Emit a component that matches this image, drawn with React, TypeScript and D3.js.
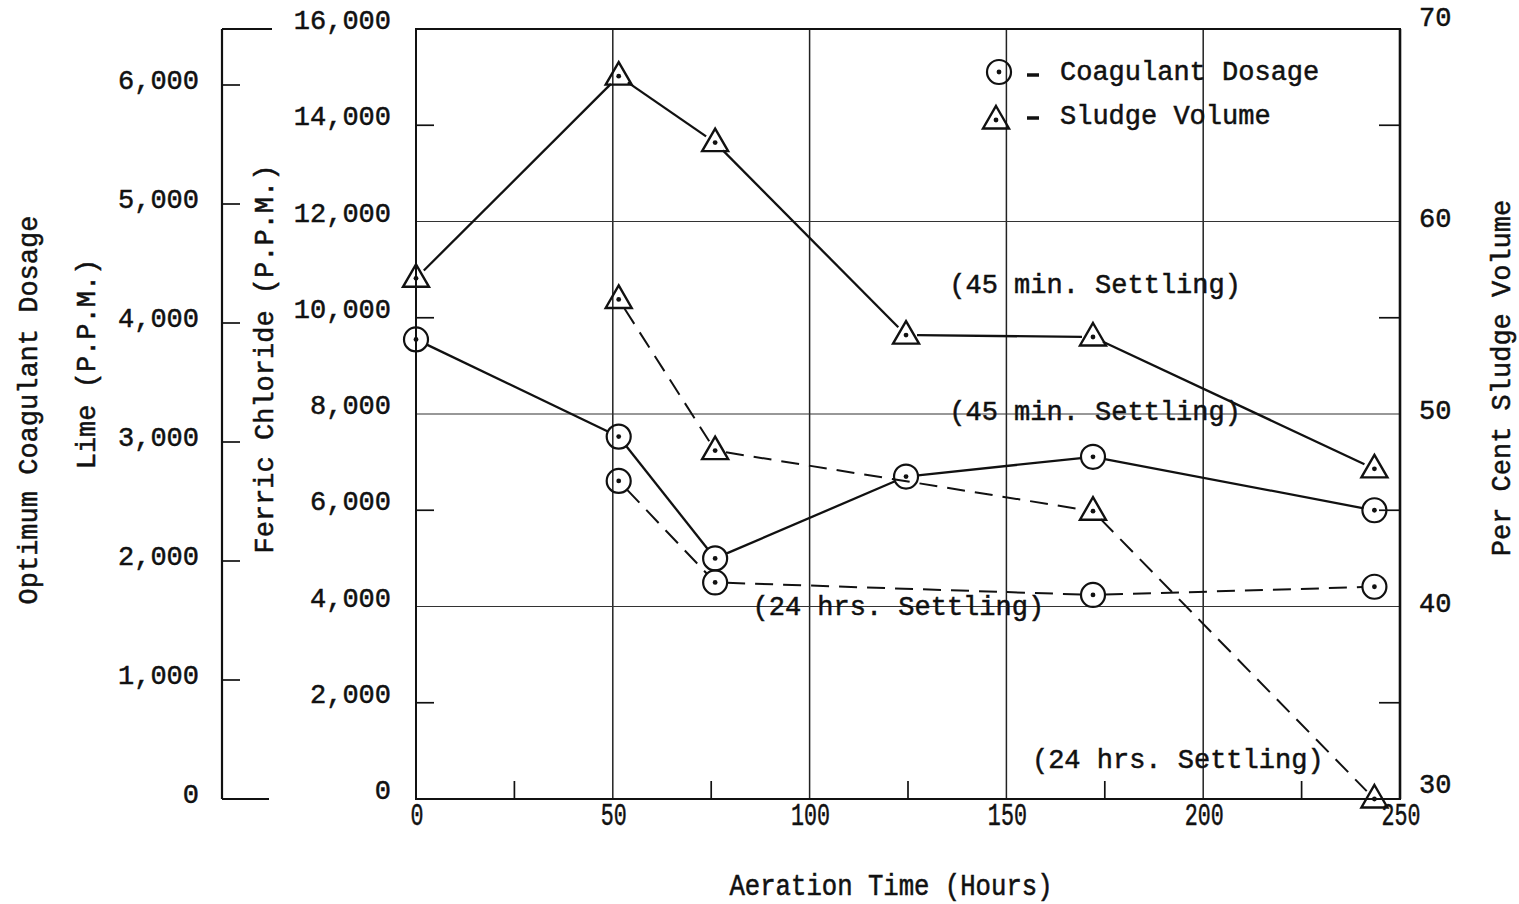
import React from "react";
import * as d3 from "d3";

// ---- data ----
const hours = [0, 51.5, 76, 124.5, 172, 243.5];
const dosage45 = [9550, 7530, 5000, 6700, 7110, 6000]; // ferric chloride P.P.M., 45 min settling
const dosage24Hours = [51.5, 76, 172, 243.5];
const dosage24 = [6610, 4500, 4240, 4410]; // 24 hrs settling
const sludge45 = [57.05, 67.55, 64.1, 54.1, 54.0, 47.15]; // per cent, 45 min settling
const sludge24Hours = [51.5, 76, 172, 243.5];
const sludge24 = [55.95, 48.1, 44.95, 30.0]; // 24 hrs settling

const xTicks = [0, 50, 100, 150, 200, 250];
const xMinorTicks = [25, 75, 125, 175, 225];
const xGrid = [50, 100, 150, 200];
const ferricTicks = [0, 2000, 4000, 6000, 8000, 10000, 12000, 14000, 16000];
const ferricGrid = [4000, 8000, 12000];
const ferricMinor = [2000, 6000, 10000, 14000];
const limeTicks = [0, 1000, 2000, 3000, 4000, 5000, 6000];
const pctTicks = [30, 40, 50, 60, 70];
const pctMinor = [35, 45, 55, 65];

const annotations = [
  { text: "(45 min. Settling)", h: 136, v: 10650 },
  { text: "(45 min. Settling)", h: 136, v: 8020 },
  { text: "(24 hrs. Settling)", h: 86, v: 3960 },
  { text: "(24 hrs. Settling)", h: 157, v: 800 },
];

const FONT = "'Liberation Mono', 'DejaVu Sans Mono', monospace";
const W = 1519;
const H = 904;

const x = d3.scaleLinear().domain([0, 250]).range([416, 1400]);
const yF = d3.scaleLinear().domain([0, 16000]).range([799, 29]);
const yP = d3.scaleLinear().domain([30, 70]).range([799, 29]);
const yL = d3.scaleLinear().domain([0, 6000]).range([799, 85]);
const LIME_X = 222;

type Pt = [number, number];

function trimmedSegments(pts: Pt[], r: number): string[] {
  const out: string[] = [];
  for (let i = 0; i < pts.length - 1; i++) {
    const [x1, y1] = pts[i];
    const [x2, y2] = pts[i + 1];
    const dx = x2 - x1, dy = y2 - y1;
    const len = Math.hypot(dx, dy);
    const ux = dx / len, uy = dy / len;
    const a: Pt = [x1 + ux * r, y1 + uy * r];
    const b: Pt = [x2 - ux * r, y2 - uy * r];
    out.push(d3.line()([a, b]) as string);
  }
  return out;
}

function Circle({ cx, cy }: { cx: number; cy: number }) {
  return (
    <g>
      <circle cx={cx} cy={cy} r={12} fill="none" stroke="#111" strokeWidth={2.2} />
      <circle cx={cx} cy={cy} r={2.4} fill="#111" />
    </g>
  );
}

function Tri({ cx, cy }: { cx: number; cy: number }) {
  const p = `M${cx},${cy - 14} L${cx + 13},${cy + 8.5} L${cx - 13},${cy + 8.5} Z`;
  return (
    <g>
      <path d={p} fill="none" stroke="#111" strokeWidth={2.4} strokeLinejoin="miter" />
      <circle cx={cx} cy={cy} r={2.4} fill="#111" />
    </g>
  );
}

export default function App() {
  const fmt = d3.format(",");
  const d45: Pt[] = hours.map((h, i) => [x(h), yF(dosage45[i])]);
  const d24: Pt[] = dosage24Hours.map((h, i) => [x(h), yF(dosage24[i])]);
  const s45: Pt[] = hours.map((h, i) => [x(h), yP(sludge45[i])]);
  const s24: Pt[] = sludge24Hours.map((h, i) => [x(h), yP(sludge24[i])]);

  const textStyle = {
    fontFamily: FONT,
    fontSize: 27,
    fill: "#111",
    stroke: "#111",
    strokeWidth: 0.5,
  } as const;

  return (
    <div style={{ position: "absolute", left: 0, top: 0 }}>
      <svg width={W} height={H} viewBox={`0 0 ${W} ${H}`} style={{ display: "block", background: "#fff" }}>
        {/* grid */}
        {xGrid.map((v) => (
          <line key={"gx" + v} x1={x(v)} x2={x(v)} y1={yF(16000)} y2={yF(0)} stroke="#222" strokeWidth={1.5} />
        ))}
        {ferricGrid.map((v) => (
          <line key={"gy" + v} x1={x(0)} x2={x(250)} y1={yF(v)} y2={yF(v)} stroke="#333" strokeWidth={1.2} />
        ))}
        {/* minor ticks */}
        {xMinorTicks.map((v) => (
          <line key={"mx" + v} x1={x(v)} x2={x(v)} y1={yF(0)} y2={yF(0) - 18} stroke="#111" strokeWidth={1.7} />
        ))}
        {ferricMinor.map((v) => (
          <line key={"mf" + v} x1={x(0)} x2={x(0) + 18} y1={yF(v)} y2={yF(v)} stroke="#111" strokeWidth={1.7} />
        ))}
        {pctMinor.map((v) => (
          <line key={"mp" + v} x1={x(250) - 21} x2={x(250)} y1={yP(v)} y2={yP(v)} stroke="#111" strokeWidth={1.7} />
        ))}
        {/* frame */}
        <rect x={x(0)} y={yF(16000)} width={x(250) - x(0)} height={yF(0) - yF(16000)} fill="none" stroke="#111" strokeWidth={2} />
        <line x1={x(250)} x2={x(250)} y1={yF(16000)} y2={yF(0)} stroke="#111" strokeWidth={2.6} />

        {/* lime axis */}
        <line x1={LIME_X} x2={LIME_X} y1={yF(16000)} y2={yF(0)} stroke="#111" strokeWidth={2.2} />
        <line x1={LIME_X} x2={LIME_X + 50} y1={yF(16000)} y2={yF(16000)} stroke="#111" strokeWidth={2} />
        <line x1={LIME_X} x2={LIME_X + 47} y1={yL(0)} y2={yL(0)} stroke="#111" strokeWidth={2} />
        {limeTicks.filter((v) => v > 0).map((v) => (
          <line key={"lt" + v} x1={LIME_X} x2={LIME_X + 18} y1={yL(v)} y2={yL(v)} stroke="#111" strokeWidth={1.7} />
        ))}
        {limeTicks.map((v) => (
          <text key={"ll" + v} x={199} y={yL(v) - 3} textAnchor="end" dominantBaseline="central" style={textStyle}>
            {fmt(v)}
          </text>
        ))}

        {/* ferric labels */}
        {ferricTicks.map((v) => (
          <text key={"fl" + v} x={391} y={yF(v) - 7} textAnchor="end" dominantBaseline="central" style={textStyle}>
            {fmt(v)}
          </text>
        ))}

        {/* percent labels */}
        {pctTicks.map((v, i) => (
          <text
            key={"pl" + v}
            x={1419}
            y={yP(v) + (i === 0 ? -13 : i === pctTicks.length - 1 ? -10 : -2)}
            dominantBaseline="central"
            style={textStyle}
          >
            {v}
          </text>
        ))}

        {/* x labels */}
        {xTicks.map((v) => (
          <text
            key={"xl" + v}
            transform={`translate(${x(v) + 1},${817}) scale(0.7,1)`}
            textAnchor="middle"
            dominantBaseline="central"
            style={{ ...textStyle, fontSize: 31 }}
          >
            {v}
          </text>
        ))}

        {/* axis titles */}
        <text transform={`translate(891,887) scale(0.95,1.1)`} textAnchor="middle" dominantBaseline="central" style={textStyle}>
          Aeration Time (Hours)
        </text>
        <text transform={`translate(30,410) rotate(-90)`} textAnchor="middle" dominantBaseline="central" style={textStyle}>
          Optimum Coagulant Dosage
        </text>
        <text transform={`translate(88,364) rotate(-90)`} textAnchor="middle" dominantBaseline="central" style={textStyle}>
          Lime (P.P.M.)
        </text>
        <text transform={`translate(266,359) rotate(-90)`} textAnchor="middle" dominantBaseline="central" style={textStyle}>
          Ferric Chloride (P.P.M.)
        </text>
        <text transform={`translate(1503,378) rotate(-90)`} textAnchor="middle" dominantBaseline="central" style={textStyle}>
          Per Cent Sludge Volume
        </text>

        {/* series lines */}
        {trimmedSegments(s45, 11).map((d, i) => (
          <path key={"s45" + i} d={d} fill="none" stroke="#111" strokeWidth={2.3} />
        ))}
        {trimmedSegments(d45, 12).map((d, i) => (
          <path key={"d45" + i} d={d} fill="none" stroke="#111" strokeWidth={2.3} />
        ))}
        {trimmedSegments(s24, 11).map((d, i) => (
          <path key={"s24" + i} d={d} fill="none" stroke="#111" strokeWidth={2} strokeDasharray="18,10" />
        ))}
        {trimmedSegments(d24, 12).map((d, i) => (
          <path key={"d24" + i} d={d} fill="none" stroke="#111" strokeWidth={2} strokeDasharray="18,10" />
        ))}

        {/* markers */}
        {s45.map(([cx, cy], i) => <Tri key={"ts" + i} cx={cx} cy={cy} />)}
        {s24.map(([cx, cy], i) => <Tri key={"td" + i} cx={cx} cy={cy} />)}
        {d45.map(([cx, cy], i) => <Circle key={"cs" + i} cx={cx} cy={cy} />)}
        {d24.map(([cx, cy], i) => <Circle key={"cd" + i} cx={cx} cy={cy} />)}

        {/* annotations */}
        {annotations.map((a, i) => (
          <text key={"an" + i} x={x(a.h) - 2} y={yF(a.v)} dominantBaseline="central" style={textStyle}>
            {a.text}
          </text>
        ))}

        {/* legend */}
        <Circle cx={999} cy={72} />
        <line x1={1027} x2={1039} y1={75} y2={75} stroke="#111" strokeWidth={3.5} />
        <text x={1060} y={73} dominantBaseline="central" style={textStyle}>Coagulant Dosage</text>
        <Tri cx={996} cy={120} />
        <line x1={1027} x2={1039} y1={118} y2={118} stroke="#111" strokeWidth={3.5} />
        <text x={1060} y={117} dominantBaseline="central" style={textStyle}>Sludge Volume</text>
      </svg>
    </div>
  );
}
